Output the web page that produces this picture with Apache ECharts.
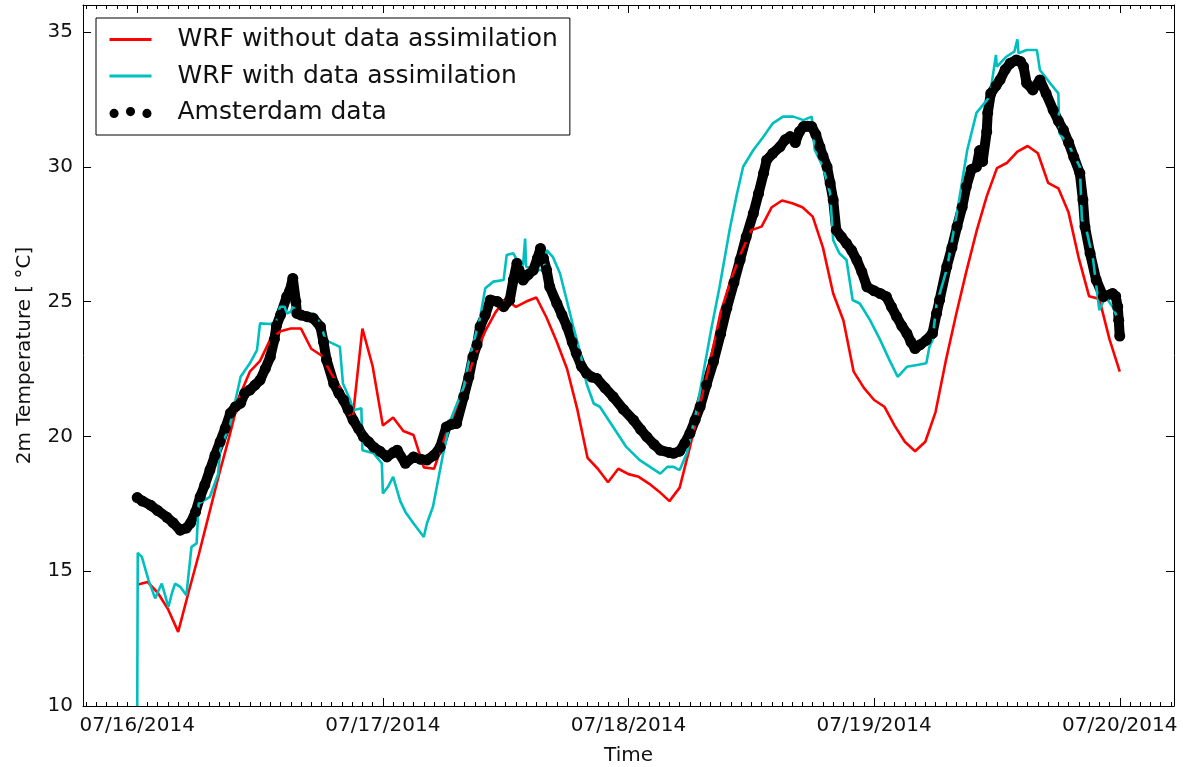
<!DOCTYPE html>
<html>
<head>
<meta charset="utf-8">
<title>2m Temperature</title>
<script src="https://cdn.jsdelivr.net/npm/echarts@6/dist/echarts.min.js"></script>
<style>
  html, body { margin: 0; padding: 0; background: #fff; }
  #main { width: 1183px; height: 767px; }
</style>
</head>
<body>
<div id="main"></div>
<script>
// x values are hours since 07/16/2014 00:00
const dayTicks = [0, 24, 48, 72, 96];
const dayLabels = ['07/16/2014', '07/17/2014', '07/18/2014', '07/19/2014', '07/20/2014'];
const tempTicks = [10, 15, 20, 25, 30, 35];

// WRF without data assimilation, hourly from 00:00
const noDaTemp = [
  14.5, 14.6, 14.2, 13.6, 12.75, 14.2, 15.6, 17.1, 18.6, 20.0,
  21.5, 22.4, 22.8, 23.6, 23.9, 24.0, 24.0, 23.25, 23.0, 22.3,
  21.7, 20.5, 24.0, 22.6, 20.4, 20.7, 20.2, 20.05, 18.85, 18.8,
  19.9, 20.9, 21.9, 23.0, 23.9, 24.6, 25.1, 24.8, 25.0, 25.15,
  24.4, 23.5, 22.5, 21.0, 19.2, 18.8, 18.3, 18.8, 18.6, 18.5,
  18.25, 17.95, 17.6, 18.1, 19.6, 21.2, 22.8, 24.6, 25.8, 26.8,
  27.65, 27.78, 28.5, 28.75, 28.65, 28.5, 28.15, 27.0, 25.3, 24.3,
  22.4, 21.8, 21.35, 21.1, 20.4, 19.8, 19.45, 19.8, 20.9, 22.8,
  24.5, 26.1, 27.6, 28.9, 29.95, 30.15, 30.56, 30.77, 30.5, 29.4,
  29.2, 28.3, 26.6, 25.2, 25.1, 23.6, 22.4
];

// WRF with data assimilation [hour, temp]
const daPoints = [
  [0, 10], [0.05, 15.68], [0.45, 15.53], [1.1, 14.67], [1.75, 13.99], [2.1, 14.3],
  [2.4, 14.54], [3.05, 13.67], [3.4, 14.2], [3.7, 14.54], [4.2, 14.42], [4.8, 14.11],
  [5.3, 15.9], [5.8, 16.03], [6.0, 17.51], [7.1, 17.76], [7.9, 18.6], [8.1, 19.49],
  [9.1, 20.48], [10.1, 22.21], [11.0, 22.71], [11.7, 23.2], [12.0, 24.19], [13.0, 24.17],
  [13.6, 24.25], [13.95, 24.81], [14.4, 24.81], [14.6, 24.56], [15.0, 24.62], [15.2, 24.81],
  [15.9, 24.5], [17.2, 24.56], [17.9, 24.19], [18.4, 23.57], [19.8, 23.32], [20.1, 21.96],
  [20.8, 21.35], [21.1, 20.97], [21.9, 21.04], [22.0, 19.49], [23.1, 19.37], [23.9, 19.0],
  [24.0, 17.88], [24.5, 18.13], [25.0, 18.5], [25.7, 17.6], [26.2, 17.2], [27.0, 16.77],
  [28.0, 16.27], [28.3, 16.77], [28.9, 17.4], [29.9, 19.37], [30.6, 20.6], [31.9, 21.84],
  [32.5, 22.95], [33.5, 24.4], [34.0, 25.49], [34.8, 25.74], [35.8, 25.8], [36.1, 26.73],
  [36.75, 26.79], [37.1, 26.54], [37.7, 26.35], [37.9, 27.34], [38.0, 26.29], [39.0, 26.17],
  [39.7, 26.17], [40.0, 26.91], [40.6, 26.66], [41.3, 26.05], [41.96, 25.06], [42.6, 24.07],
  [43.3, 23.08], [43.9, 21.96], [44.6, 21.22], [45.2, 21.1], [46.5, 20.35], [47.8, 19.6],
  [49.1, 19.12], [50.1, 18.87], [51.1, 18.62], [51.8, 18.87], [52.4, 18.87], [53.0, 18.75],
  [53.7, 19.37], [54.65, 20.97], [56.1, 24.0], [56.9, 25.55], [57.9, 27.7], [58.6, 29.0],
  [59.2, 30.0], [60.2, 30.62], [61.2, 31.12], [62.1, 31.61], [63.1, 31.86], [64.1, 31.86],
  [65.1, 31.73], [65.9, 31.86], [66.2, 30.62], [67.0, 30.0], [67.7, 29.01], [68.0, 27.28],
  [68.6, 26.79], [69.3, 26.54], [69.9, 25.06], [70.6, 24.93], [71.6, 24.31], [72.6, 23.57],
  [73.5, 22.83], [74.3, 22.21], [75.2, 22.58], [76.2, 22.65], [77.1, 22.71], [77.4, 23.32],
  [77.7, 23.57], [78.1, 24.9], [79.1, 26.2], [80.1, 28.3], [81.1, 30.62], [82.0, 32.0],
  [83.3, 32.6], [83.9, 34.15], [84.0, 33.71], [84.9, 34.08], [85.7, 34.27], [86.0, 34.73],
  [86.1, 34.21], [86.9, 34.33], [87.9, 34.33], [88.2, 33.59], [89.2, 33.1], [90.0, 32.72],
  [90.1, 31.24], [91.1, 30.74], [92.1, 30.0], [92.3, 28.02], [92.6, 27.9], [93.4, 26.54],
  [94.0, 24.68], [94.6, 25.18], [95.3, 24.81], [96.0, 24.19]
];

// Amsterdam observations [hour, temp]
const obsPoints = [
  [0, 17.73], [0.5, 17.6], [1.3, 17.45], [2.0, 17.25], [2.9, 17.0], [3.5, 16.8],
  [4.2, 16.52], [4.8, 16.6], [5.2, 16.78], [5.7, 17.2], [6.15, 17.76], [6.6, 18.2],
  [7.1, 18.75], [7.6, 19.3], [8.1, 19.8], [8.6, 20.3], [9.1, 20.86], [9.6, 21.1],
  [10.1, 21.23], [10.5, 21.6], [11.0, 21.72], [11.5, 21.9], [12.0, 22.09], [12.5, 22.5],
  [13.0, 22.95], [13.4, 23.6], [13.6, 24.1], [14.0, 24.5], [14.6, 25.18], [14.9, 25.4],
  [15.2, 25.86], [15.5, 25.0], [15.6, 24.56], [16.0, 24.5], [16.6, 24.44], [17.2, 24.38],
  [17.9, 24.07], [18.2, 23.5], [18.5, 22.83], [19.2, 21.96], [19.7, 21.6], [20.15, 21.35],
  [20.6, 21.0], [21.1, 20.6], [21.6, 20.3], [22.1, 19.98], [22.6, 19.8], [23.1, 19.6],
  [23.7, 19.45], [24.4, 19.24], [25.0, 19.4], [25.4, 19.49], [26.2, 19.0], [27.0, 19.24],
  [27.7, 19.15], [28.3, 19.12], [29.0, 19.3], [29.6, 19.6], [30.2, 20.35], [30.7, 20.45],
  [31.2, 20.48], [31.9, 21.47], [32.4, 22.2], [32.8, 22.95], [33.2, 23.4], [33.5, 24.07],
  [34.0, 24.5], [34.5, 25.06], [35.2, 25.0], [35.8, 24.81], [36.4, 25.06], [36.75, 25.8],
  [37.1, 26.42], [37.7, 25.8], [38.2, 26.0], [38.7, 26.17], [39.1, 26.6], [39.4, 26.97],
  [39.7, 26.6], [40.0, 26.17], [40.3, 25.55], [41.0, 24.93], [41.5, 24.5], [42.0, 24.07],
  [42.5, 23.5], [42.9, 23.08], [43.4, 22.6], [43.9, 22.34], [44.4, 22.2], [44.9, 22.15],
  [45.7, 21.8], [46.5, 21.47], [47.5, 21.0], [48.5, 20.6], [49.2, 20.25], [49.8, 19.98],
  [50.5, 19.7], [51.1, 19.49], [52.0, 19.4], [52.4, 19.37], [53.0, 19.45], [53.5, 19.75],
  [54.0, 20.11], [54.5, 20.6], [55.0, 21.1], [55.6, 21.9], [56.3, 22.77], [57.0, 23.8],
  [57.6, 24.75], [58.3, 25.7], [58.9, 26.54], [59.5, 27.4], [60.2, 28.27], [60.7, 29.0],
  [61.2, 29.76], [61.5, 30.25], [62.1, 30.5], [62.8, 30.74], [63.3, 31.0], [63.8, 31.12],
  [64.3, 30.9], [64.7, 31.3], [65.1, 31.49], [65.5, 31.5], [65.9, 31.49], [66.3, 31.2],
  [66.7, 30.74], [67.0, 30.4], [67.4, 30.0], [67.7, 29.4], [68.0, 28.77], [68.3, 27.65],
  [68.8, 27.4], [69.3, 27.16], [69.8, 26.9], [70.3, 26.54], [70.8, 26.1], [71.3, 25.55],
  [72.0, 25.4], [72.6, 25.3], [73.2, 25.18], [73.7, 24.8], [74.2, 24.44], [74.7, 24.1],
  [75.2, 23.82], [75.6, 23.5], [76.0, 23.26], [76.5, 23.4], [77.1, 23.57], [77.7, 23.82],
  [78.1, 24.56], [78.4, 25.06], [79.1, 26.3], [79.6, 27.0], [80.1, 27.78], [80.6, 28.5],
  [81.0, 29.26], [81.5, 29.9], [82.0, 30.0], [82.3, 30.6], [82.6, 30.2], [83.0, 31.3],
  [83.1, 32.0], [83.4, 32.72], [83.9, 33.0], [84.3, 33.22], [84.8, 33.6], [85.3, 33.84],
  [85.9, 33.96], [86.3, 33.9], [86.6, 33.71], [86.9, 33.1], [87.5, 32.85], [88.2, 33.22],
  [88.8, 32.72], [89.5, 32.1], [90.0, 31.7], [90.5, 31.36], [91.0, 30.9], [91.5, 30.37],
  [92.1, 29.76], [92.4, 28.77], [92.6, 27.78], [93.1, 26.79], [93.7, 25.8], [94.4, 25.18],
  [95.3, 25.3], [95.6, 25.2], [95.8, 24.81], [95.9, 24.31], [96.0, 23.72]
];

const xMin = -5.3, xMax = 101.3;
const hourTicks = [];
for (let h = -5; h <= 101; h++) hourTicks.push(h);

const font = 'DejaVu Sans';
const noDaData = noDaTemp.map((v, i) => [i, v]);
const threeDots = 'path://M0,7a5,5 0 1,0 10,0a5,5 0 1,0 -10,0M18,5a5,5 0 1,0 10,0a5,5 0 1,0 -10,0M36,7a5,5 0 1,0 10,0a5,5 0 1,0 -10,0';

const chart = echarts.init(document.getElementById('main'));
// fixed plot box, no automatic shrinking for labels
const gridPos = { left: 83, right: 9, top: 5, bottom: 61, outerBoundsMode: 'none', containLabel: false };
const black = { color: '#000', width: 1 };

chart.setOption({
  animation: false,
  backgroundColor: '#fff',
  grid: [Object.assign({}, gridPos), Object.assign({}, gridPos)],
  legend: {
    orient: 'vertical',
    left: 96,
    top: 18,
    itemWidth: 42,
    itemHeight: 12,
    itemGap: 11.5,
    padding: [9, 12, 10, 12],
    borderColor: '#000',
    borderWidth: 1,
    borderRadius: 0,
    backgroundColor: '#fff',
    textStyle: { fontFamily: font, fontSize: 25, color: '#111', padding: [0, 0, 0, 21] },
    data: [
      // hide the centre marker, keep only the line
      { name: 'WRF without data assimilation', itemStyle: { opacity: 0 }, lineStyle: { width: 3 } },
      { name: 'WRF with data assimilation', itemStyle: { opacity: 0 }, lineStyle: { width: 3 } },
      { name: 'Amsterdam data', icon: threeDots }
    ]
  },
  xAxis: [
    {
      type: 'value', gridIndex: 0, position: 'bottom', min: xMin, max: xMax,
      name: 'Time', nameLocation: 'middle', nameGap: 40,
      nameTextStyle: { fontFamily: font, fontSize: 20, color: '#111' },
      axisLine: { onZero: false, lineStyle: black },
      axisTick: { inside: true, length: 8, lineStyle: black, customValues: dayTicks },
      axisLabel: {
        customValues: dayTicks, margin: 10, fontFamily: font, fontSize: 20, color: '#111',
        formatter: v => dayLabels[dayTicks.indexOf(v)]
      },
      splitLine: { show: false }
    },
    {
      type: 'value', gridIndex: 0, position: 'top', min: xMin, max: xMax,
      axisLine: { onZero: false, lineStyle: black },
      axisTick: { inside: true, length: 8, lineStyle: black, customValues: dayTicks },
      axisLabel: { show: false },
      splitLine: { show: false }
    },
    {
      type: 'value', gridIndex: 1, position: 'bottom', min: xMin, max: xMax,
      axisLine: { show: false, onZero: false },
      axisTick: { inside: true, length: 4, lineStyle: black, customValues: hourTicks },
      axisLabel: { show: false },
      splitLine: { show: false }
    },
    {
      type: 'value', gridIndex: 1, position: 'top', min: xMin, max: xMax,
      axisLine: { show: false, onZero: false },
      axisTick: { inside: true, length: 4, lineStyle: black, customValues: hourTicks },
      axisLabel: { show: false },
      splitLine: { show: false }
    }
  ],
  yAxis: [
    {
      type: 'value', gridIndex: 0, position: 'left', min: 10, max: 36, interval: 5,
      name: '2m Temperature [ °C]', nameLocation: 'middle', nameGap: 48,
      nameTextStyle: { fontFamily: font, fontSize: 20, color: '#111' },
      axisLine: { show: true, onZero: false, lineStyle: black },
      axisTick: { show: true, inside: true, length: 8, lineStyle: black, customValues: tempTicks },
      axisLabel: { customValues: tempTicks, margin: 10, fontFamily: font, fontSize: 20, color: '#111' },
      splitLine: { show: false }
    },
    {
      type: 'value', gridIndex: 0, position: 'right', min: 10, max: 36, interval: 5,
      axisLine: { show: true, onZero: false, lineStyle: black },
      axisTick: { show: true, inside: true, length: 8, lineStyle: black, customValues: tempTicks },
      axisLabel: { show: false },
      splitLine: { show: false }
    },
    {
      type: 'value', gridIndex: 1, min: 0, max: 1, show: false
    }
  ],
  series: [
    {
      name: 'Amsterdam data',
      type: 'line',
      xAxisIndex: 0, yAxisIndex: 0,
      data: obsPoints,
      symbol: 'circle',
      symbolSize: 11,
      showSymbol: true,
      itemStyle: { color: '#000' },
      lineStyle: { color: '#000', width: 10, cap: 'round', join: 'round' },
      clip: true
    },
    {
      name: 'WRF without data assimilation',
      type: 'line',
      xAxisIndex: 0, yAxisIndex: 0,
      data: noDaData,
      symbol: 'none',
      itemStyle: { color: '#ff0000' },
      lineStyle: { color: '#ff0000', width: 2.6 },
      clip: true
    },
    {
      name: 'WRF with data assimilation',
      type: 'line',
      xAxisIndex: 0, yAxisIndex: 0,
      data: daPoints,
      symbol: 'none',
      itemStyle: { color: '#00bfbf' },
      lineStyle: { color: '#00bfbf', width: 2.6 },
      clip: true
    }
  ]
});
</script>
</body>
</html>
